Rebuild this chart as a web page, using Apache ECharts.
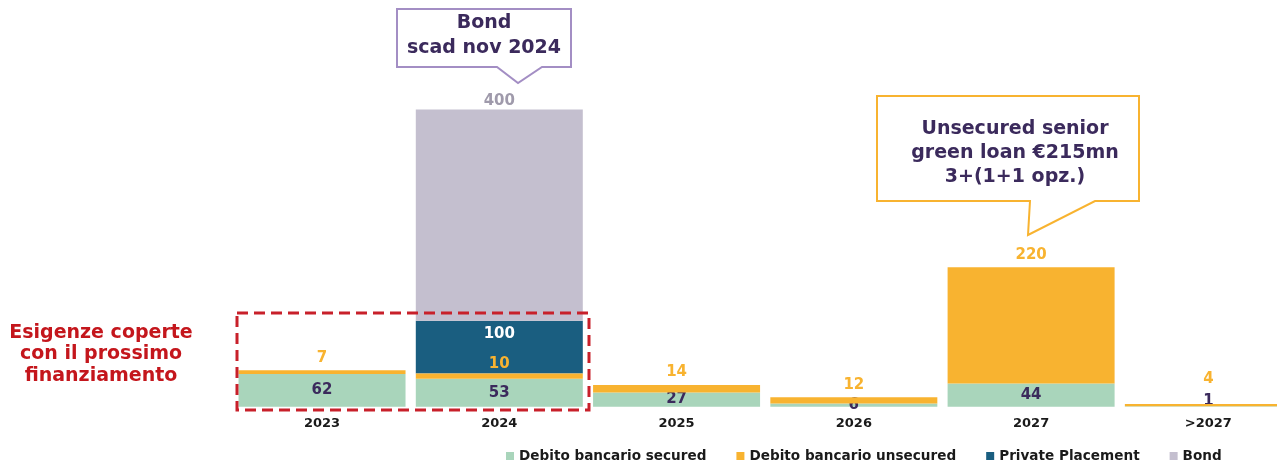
<!DOCTYPE html>
<html>
<head>
<meta charset="utf-8">
<script src="https://cdn.jsdelivr.net/npm/echarts@6/dist/echarts.min.js"></script>
<style>
html,body{margin:0;padding:0;background:#fff;overflow:hidden;width:1277px;height:462px;}
#chart{width:1297px;height:462px;}
</style>
</head>
<body>
<div id="chart"></div>
<script>
// ---- Data ----
const categories = ['2023', '2024', '2025', '2026', '2027', '>2027'];
const securedValues = [62, 53, 27, 6, 44, 1];
const unsecuredValues = [7, 10, 14, 12, 220, 4];
const privatePlacementValues = [null, 100, null, null, null, null];
const bondValues = [null, 400, null, null, null, null];
const seriesNames = ['Debito bancario secured', 'Debito bancario unsecured', 'Private Placement', 'Bond'];

// ---- Styles ----
const FONT = '"DejaVu Sans", Verdana, sans-serif';
const C_SEC = '#a9d5bb';
const C_UNS = '#f8b330';
const C_PP = '#1a5e80';
const C_BOND = '#c4bfcf';
const C_TXT = '#3b2a5c';
const C_RED = '#c4161c';

const securedLabelOffset = {5: [0, -5]};
const unsecuredLabelOffset = {1: [0, 3], 5: [0, -12]};

function items(values, offsets) {
  return values.map((v, i) => {
    if (offsets && offsets[i]) return {value: v, label: {offset: offsets[i]}};
    return v;
  });
}

const chart = echarts.init(document.getElementById('chart'), null, {renderer: 'canvas'});
const labelBase = {show: true, fontFamily: FONT, fontWeight: 'bold', fontSize: 15};

chart.setOption({
  animation: false,
  backgroundColor: '#ffffff',
  textStyle: {fontFamily: FONT},
  grid: {left: 233.4, right: 0, top: 90, bottom: 55.3, containLabel: false},
  legend: {
    data: seriesNames,
    left: 501, top: 444,
    icon: 'rect', itemWidth: 8, itemHeight: 8, itemGap: 30,
    textStyle: {fontFamily: FONT, fontWeight: 'bold', fontSize: 13.6, color: '#1a1a1a'}
  },
  xAxis: {
    type: 'category', data: categories,
    axisLine: {show: false}, axisTick: {show: false},
    axisLabel: {fontFamily: FONT, fontWeight: 'bold', fontSize: 13, color: '#1a1a1a', margin: 10, interval: 0}
  },
  yAxis: {type: 'value', min: 0, max: 600, show: false, splitLine: {show: false}},
  series: [
    {name: seriesNames[0], type: 'bar', stack: 'tot', barWidth: 167,
     itemStyle: {color: C_SEC},
     label: Object.assign({}, labelBase, {position: 'inside', color: C_TXT}),
     data: items(securedValues, securedLabelOffset)},
    {name: seriesNames[1], type: 'bar', stack: 'tot', barWidth: 167,
     itemStyle: {color: C_UNS},
     label: Object.assign({}, labelBase, {position: 'top', distance: 5, color: C_UNS}),
     z: 3,
     data: items(unsecuredValues, unsecuredLabelOffset)},
    {name: seriesNames[2], type: 'bar', stack: 'tot', barWidth: 167,
     itemStyle: {color: C_PP},
     label: Object.assign({}, labelBase, {position: 'insideTop', distance: 6, color: '#ffffff'}),
     z: 2,
     data: items(privatePlacementValues)},
    {name: seriesNames[3], type: 'bar', stack: 'tot', barWidth: 167,
     itemStyle: {color: C_BOND},
     label: Object.assign({}, labelBase, {position: 'top', distance: 1, color: '#9f9aab'}),
     data: items(bondValues)}
  ],
  graphic: [
    // dashed rectangle
    {type: 'rect', z: 100, shape: {x: 237, y: 313, width: 352, height: 97},
     style: {fill: 'none', stroke: '#c8202a', lineWidth: 3, lineDash: [11, 6]}},
    // left red note
    {type: 'text', z: 100, x: 101, y: 322,
     style: {text: 'Esigenze coperte\ncon il prossimo\nfinanziamento', fill: C_RED,
             font: 'bold 19px ' + FONT, textAlign: 'center', lineHeight: 21.5, textVerticalAlign: 'top'}},
    // Bond callout
    {type: 'polygon', z: 100,
     shape: {points: [[397, 9], [571, 9], [571, 67], [542, 67], [518, 83], [497, 67], [397, 67]]},
     style: {fill: '#ffffff', stroke: '#a38ec4', lineWidth: 2}},
    {type: 'text', z: 101, x: 484, y: 11,
     style: {text: 'Bond\nscad nov 2024', fill: C_TXT, font: 'bold 19px ' + FONT,
             textAlign: 'center', lineHeight: 25, textVerticalAlign: 'top'}},
    // Green loan callout
    {type: 'polygon', z: 100,
     shape: {points: [[877, 96], [1139, 96], [1139, 201], [1095, 201], [1028, 235], [1030, 201], [877, 201]]},
     style: {fill: '#ffffff', stroke: C_UNS, lineWidth: 2}},
    {type: 'text', z: 101, x: 1015, y: 117,
     style: {text: 'Unsecured senior\ngreen loan €215mn\n3+(1+1 opz.)', fill: C_TXT, font: 'bold 19px ' + FONT,
             textAlign: 'center', lineHeight: 24, textVerticalAlign: 'top'}}
  ]
});
</script>
</body>
</html>
